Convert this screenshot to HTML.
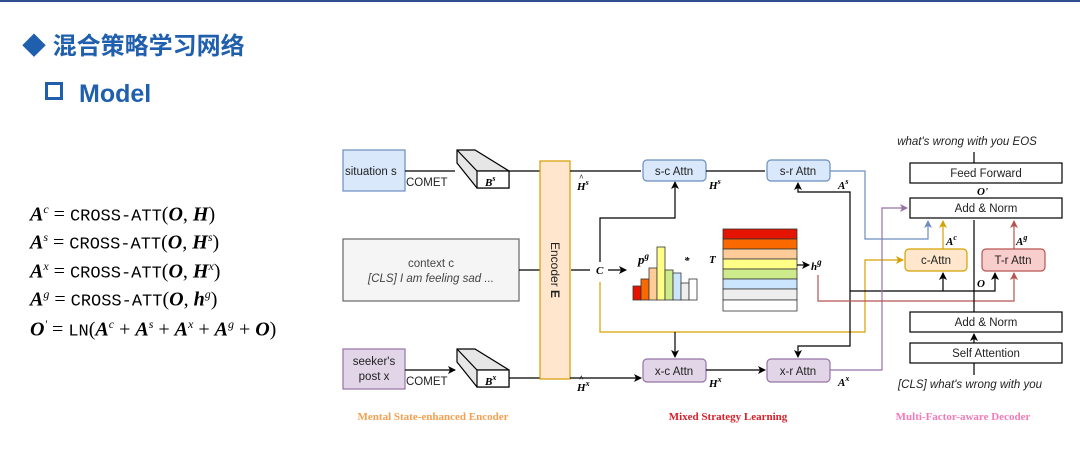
<!DOCTYPE html>
<html><head><meta charset="utf-8"><style>
body{margin:0;width:1080px;height:456px;background:#fff;overflow:hidden;position:relative;font-family:"Liberation Sans",sans-serif}
.f{position:absolute;left:30px;font-family:"Liberation Serif",serif;font-size:20px;white-space:nowrap}
.f b{font-style:italic}
.f tt{font-family:"Liberation Mono",monospace;font-size:17px}
.f sup{font-size:12px;font-style:italic}
</style></head><body>
<div style="position:absolute;left:0;top:0;width:1080px;height:2px;background:#2f4f8f"></div>
<div style="position:absolute;left:22px;top:26px;font-size:24px;font-weight:bold;color:#1f5fae;font-family:'Liberation Sans','Noto Sans CJK SC',sans-serif">◆ 混合策略学习网络</div>
<div style="position:absolute;left:45px;top:80px;font-size:25px;font-weight:bold;color:#1f5fae"><span style="display:inline-block;width:12px;height:12px;border:3px solid #1f5fae;margin-right:16px;vertical-align:2px"></span>Model</div>
<div class="f" style="top:202px"><b>A</b><sup>c</sup> = <tt>CROSS-ATT</tt>(<b>O</b>, <b>H</b>)</div>
<div class="f" style="top:230px"><b>A</b><sup>s</sup> = <tt>CROSS-ATT</tt>(<b>O</b>, <b>H</b><sup>s</sup>)</div>
<div class="f" style="top:259px"><b>A</b><sup>x</sup> = <tt>CROSS-ATT</tt>(<b>O</b>, <b>H</b><sup>x</sup>)</div>
<div class="f" style="top:287px"><b>A</b><sup>g</sup> = <tt>CROSS-ATT</tt>(<b>O</b>, <b>h</b><sup>g</sup>)</div>
<div class="f" style="top:317px"><b>O</b><sup>'</sup> = <tt>LN</tt>(<b>A</b><sup>c</sup> + <b>A</b><sup>s</sup> + <b>A</b><sup>x</sup> + <b>A</b><sup>g</sup> + <b>O</b>)</div>

<svg width="1080" height="456" style="position:absolute;left:0;top:0" font-family="Liberation Sans" font-size="11">
<defs>
<marker id="k" markerWidth="8" markerHeight="8" refX="7" refY="4" orient="auto" markerUnits="userSpaceOnUse"><path d="M0,0L8,4L0,8L2,4z" fill="#000"/></marker>
<marker id="b" markerWidth="8" markerHeight="8" refX="7" refY="4" orient="auto" markerUnits="userSpaceOnUse"><path d="M0,0L8,4L0,8L2,4z" fill="#6c8ebf"/></marker>
<marker id="y" markerWidth="8" markerHeight="8" refX="7" refY="4" orient="auto" markerUnits="userSpaceOnUse"><path d="M0,0L8,4L0,8L2,4z" fill="#d6a000"/></marker>
<marker id="r" markerWidth="8" markerHeight="8" refX="7" refY="4" orient="auto" markerUnits="userSpaceOnUse"><path d="M0,0L8,4L0,8L2,4z" fill="#b85450"/></marker>
<marker id="p" markerWidth="8" markerHeight="8" refX="7" refY="4" orient="auto" markerUnits="userSpaceOnUse"><path d="M0,0L8,4L0,8L2,4z" fill="#9673a6"/></marker>
</defs>
<g stroke-width="1.2" fill="none">
<rect x="343" y="150" width="62" height="41" fill="#dae8fc" stroke="#6c8ebf"/>
<rect x="343" y="239" width="176" height="62" fill="#f5f5f5" stroke="#666"/>
<rect x="343" y="349" width="62" height="40" fill="#e1d5e7" stroke="#9673a6"/>
<path d="M457,150L475,150L509,171L509,188L477,188L457,163Z" fill="#e6e6e6" stroke="#000"/>
<path d="M457,150L477,171L509,171" stroke="#000"/>
<rect x="477" y="171" width="32" height="17" fill="#fff" stroke="#000"/>
<path d="M457,349L475,349L509,370L509,387L477,387L457,362Z" fill="#e6e6e6" stroke="#000"/>
<path d="M457,349L477,370L509,370" stroke="#000"/>
<rect x="477" y="370" width="32" height="17" fill="#fff" stroke="#000"/>
<path d="M405,171H455M405,370H455" stroke="#000" marker-end="url(#k)"/>
<path d="M509,171H540M519,270H540M509,378H540" stroke="#000"/>
<rect x="540" y="161" width="30" height="218" fill="#ffe6cc" stroke="#d79b00"/>
<path d="M570,171H641M570,378H641" stroke="#000" marker-end="url(#k)"/>
<path d="M571,270H590M608,270H626" stroke="#000" marker-end="url(#k)"/>
<path d="M600,262V218H675V182" stroke="#000" marker-end="url(#k)"/>
<path d="M600,282V332H865V260H903" stroke="#d6a000" marker-end="url(#y)"/>
<path d="M675,332V357" stroke="#000" marker-end="url(#k)"/>
<rect x="643" y="160" width="63" height="21" rx="4" fill="#dae8fc" stroke="#6c8ebf"/>
<rect x="767" y="160" width="63" height="21" rx="4" fill="#dae8fc" stroke="#6c8ebf"/>
<rect x="643" y="359" width="63" height="23" rx="4" fill="#e1d5e7" stroke="#9673a6"/>
<rect x="767" y="359" width="63" height="23" rx="4" fill="#e1d5e7" stroke="#9673a6"/>
<path d="M706,171H765M706,370H765" stroke="#000" marker-end="url(#k)"/>
<path d="M850,291V192H798V183" stroke="#000" marker-end="url(#k)"/>
<path d="M850,291V346H798V357" stroke="#000" marker-end="url(#k)"/>
<path d="M850,291H995V273" stroke="#000" marker-end="url(#k)"/>
<path d="M943,291V273" stroke="#000" marker-end="url(#k)"/>
<path d="M830,171H865V239H928V221" stroke="#6c8ebf" marker-end="url(#b)"/>
<path d="M830,370H882V208H907" stroke="#9673a6" marker-end="url(#p)"/>
<path d="M818,275V301H1014V273" stroke="#b85450" marker-end="url(#r)"/>
<g stroke="#333" stroke-width="0.8">
<rect x="633" y="286" width="8" height="14" fill="#e51400"/><rect x="641" y="279" width="8" height="21" fill="#fa6800"/>
<rect x="649" y="268" width="8" height="32" fill="#ffcc99"/><rect x="657" y="247" width="8" height="53" fill="#ffff88"/>
<rect x="665" y="270" width="8" height="30" fill="#cdeb8b"/><rect x="673" y="273" width="8" height="27" fill="#cce5ff"/>
<rect x="681" y="283" width="8" height="17" fill="#eee"/><rect x="689" y="279" width="8" height="21" fill="#fff"/>
</g>
<g stroke="#333" stroke-width="0.8">
<rect x="723" y="229" width="74" height="10" fill="#e51400"/><rect x="723" y="239" width="74" height="10" fill="#fa6800"/>
<rect x="723" y="249" width="74" height="10" fill="#ffcc99"/><rect x="723" y="259" width="74" height="10" fill="#ffff88"/>
<rect x="723" y="269" width="74" height="10" fill="#cdeb8b"/><rect x="723" y="279" width="74" height="10" fill="#cce5ff"/>
<rect x="723" y="289" width="74" height="11" fill="#eee"/><rect x="723" y="300" width="74" height="11" fill="#fff"/>
</g>
<path d="M797,265H809" stroke="#000" marker-end="url(#k)"/>
<rect x="910" y="163" width="152" height="20" fill="#fff" stroke="#000"/>
<rect x="910" y="198" width="152" height="20" fill="#fff" stroke="#000"/>
<rect x="910" y="312" width="152" height="20" fill="#fff" stroke="#000"/>
<rect x="910" y="343" width="152" height="20" fill="#fff" stroke="#000"/>
<rect x="905" y="249" width="62" height="22" rx="4" fill="#ffe6cc" stroke="#d6a000"/>
<rect x="982" y="249" width="63" height="22" rx="4" fill="#f8cecc" stroke="#b85450"/>
<path d="M974,163V152M974,312V220M974,343V334" stroke="#000" marker-end="url(#k)"/>
<path d="M974,375V363" stroke="#000"/>
<path d="M943,249V221" stroke="#d6a000" marker-end="url(#y)"/>
<path d="M1014,249V221" stroke="#b85450" marker-end="url(#r)"/>
</g>
<g fill="#222" font-size="11.5">
<text x="345" y="175">situation s</text>
<text x="431" y="267" text-anchor="middle" fill="#444">context c</text>
<text x="431" y="282" text-anchor="middle" font-style="italic" fill="#444">[CLS] I am feeling sad ...</text>
<text x="374" y="365" text-anchor="middle">seeker's</text>
<text x="374" y="380" text-anchor="middle">post x</text>
<text x="406" y="186">COMET</text><text x="406" y="385">COMET</text>
<text x="674" y="175" text-anchor="middle">s-c Attn</text><text x="798" y="175" text-anchor="middle">s-r Attn</text>
<text x="674" y="375" text-anchor="middle">x-c Attn</text><text x="798" y="375" text-anchor="middle">x-r Attn</text>
<text x="986" y="177" text-anchor="middle">Feed Forward</text>
<text x="986" y="212" text-anchor="middle">Add &amp; Norm</text>
<text x="986" y="326" text-anchor="middle">Add &amp; Norm</text>
<text x="986" y="357" text-anchor="middle">Self Attention</text>
<text x="936" y="264" text-anchor="middle">c-Attn</text>
<text x="1013" y="264" text-anchor="middle">T-r Attn</text>
<text x="967" y="145" text-anchor="middle" font-style="italic">what's wrong with you EOS</text>
<text x="970" y="388" text-anchor="middle" font-style="italic">[CLS] what's wrong with you</text>
<text transform="translate(551,242) rotate(90)" font-size="12">Encoder <tspan font-weight="bold">E</tspan></text>
</g>
<g font-family="Liberation Serif" font-style="italic" font-weight="bold" font-size="11" fill="#000">
<text x="485" y="186">B<tspan font-size="8" dy="-5">s</tspan></text>
<text x="485" y="385">B<tspan font-size="8" dy="-5">x</tspan></text>
<text x="577" y="190">H<tspan font-size="8" dy="-5">s</tspan></text><text x="579" y="180" font-size="8">^</text>
<text x="577" y="391">H<tspan font-size="8" dy="-5">x</tspan></text><text x="579" y="381" font-size="8">^</text>
<text x="596" y="274">C</text>
<text x="638" y="264" font-size="13">p<tspan font-size="9" dy="-5">g</tspan></text>
<text x="684" y="264">*</text>
<text x="709" y="263">T</text>
<text x="811" y="270">h<tspan font-size="9" dy="-5">g</tspan></text>
<text x="709" y="189">H<tspan font-size="8" dy="-5">s</tspan></text>
<text x="709" y="387">H<tspan font-size="8" dy="-5">x</tspan></text>
<text x="838" y="189">A<tspan font-size="8" dy="-5">s</tspan></text>
<text x="838" y="386">A<tspan font-size="8" dy="-5">x</tspan></text>
<text x="946" y="245">A<tspan font-size="8" dy="-5">c</tspan></text>
<text x="1016" y="245">A<tspan font-size="8" dy="-5">g</tspan></text>
<text x="977" y="287">O</text>
<text x="977" y="195">O'</text>
</g>
<g font-family="Liberation Serif" font-weight="bold" font-size="11">
<text x="433" y="420" text-anchor="middle" fill="#f5a050">Mental State-enhanced Encoder</text>
<text x="728" y="420" text-anchor="middle" fill="#d8202a">Mixed Strategy Learning</text>
<text x="963" y="420" text-anchor="middle" fill="#f27ab8">Multi-Factor-aware Decoder</text>
</g>
</svg>
</body></html>
